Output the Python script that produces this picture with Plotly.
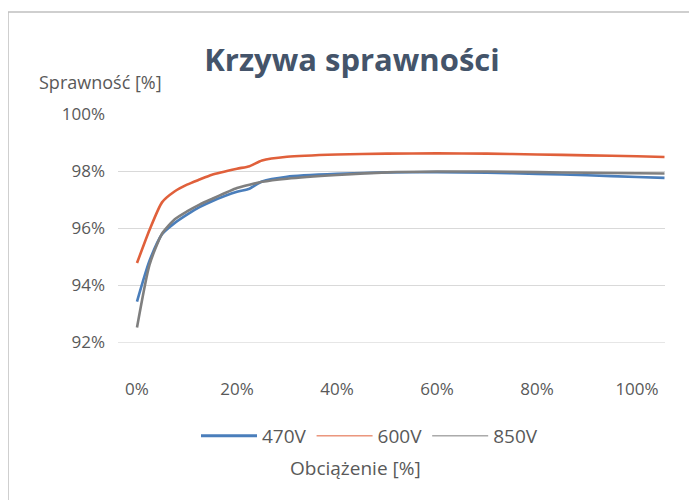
import plotly.graph_objects as go

# Load points [%]
load = [0, 2.5, 5, 7.5, 10, 12.5, 15, 20, 22.5, 25, 30, 40, 50, 60, 70, 80, 90, 100, 105.5]

# Efficiency [%]
eff_470 = [93.42, 94.85, 95.78, 96.17, 96.47, 96.73, 96.94, 97.27, 97.38, 97.63, 97.80,
           97.90, 97.95, 97.96, 97.94, 97.90, 97.85, 97.79, 97.76]
eff_600 = [94.77, 95.93, 96.90, 97.28, 97.52, 97.70, 97.87, 98.08, 98.17, 98.37, 98.50,
           98.58, 98.61, 98.62, 98.61, 98.58, 98.55, 98.52, 98.49]
eff_850 = [92.51, 94.71, 95.80, 96.30, 96.58, 96.82, 97.02, 97.40, 97.52, 97.62, 97.73,
           97.86, 97.95, 97.98, 97.98, 97.96, 97.94, 97.92, 97.91]

series_names = ["470V", "600V", "850V"]
colors = ["#4A7EBB", "#E0603B", "#7F7F7F"]
legend_widths = [3, 1, 1]

x_ticks = [0, 20, 40, 60, 80, 100]
x_tick_labels = ["0%", "20%", "40%", "60%", "80%", "100%"]
y_ticks = [92, 94, 96, 98, 100]
y_tick_labels = ["92%", "94%", "96%", "98%", "100%"]

title_text = "Krzywa sprawności"
y_title = "Sprawność [%]"
x_title = "Obciążenie [%]"

W, H = 697, 500
OFF = 8  # page body margin
L, R, T, B = 118 - OFF, W - (665 - OFF), 114 - OFF, H - (342 - OFF)
pw, ph = W - L - R, H - T - B

def px_x(p):
    return (p - OFF - L) / pw

def px_y(p):
    return (H - B - (p - OFF)) / ph

fig = go.Figure()
for name, ys, c in zip(series_names, [eff_470, eff_600, eff_850], colors):
    fig.add_trace(go.Scatter(x=load, y=ys, mode="lines", name=name,
                             line=dict(color=c, width=2.6, shape="spline", smoothing=0.6),
                             showlegend=False, hoverinfo="skip"))
for name, c, w in zip(series_names, colors, legend_widths):
    fig.add_trace(go.Scatter(x=[None], y=[None], mode="lines", name=name,
                             line=dict(color=c, width=w), showlegend=True))

font_family = "Open Sans, Noto Sans, sans-serif"
txt = "#595959"

fig.update_layout(
    width=W, height=H,
    margin=dict(l=L, r=R, t=T, b=B, pad=0),
    paper_bgcolor="white", plot_bgcolor="white",
    font=dict(family=font_family, size=17, color=txt),
    title=dict(text="<b>" + title_text + "</b>", x=(352 - OFF) / W, xanchor="center",
               y=1 - (60 - OFF) / H, yanchor="middle",
               font=dict(family=font_family, size=31, color="#44546A")),
    xaxis=dict(range=[-3.8, 105.6], tickvals=x_ticks, ticktext=x_tick_labels,
               showgrid=False, zeroline=False, showline=True, linecolor="#E6E6E6",
               linewidth=1, ticks="", ticklabelstandoff=32,
               tickfont=dict(size=17, color=txt)),
    yaxis=dict(range=[92, 100], tickvals=y_ticks, ticktext=y_tick_labels,
               showgrid=True, gridcolor="#D9D9D9", gridwidth=1, zeroline=False,
               showline=False, ticks="", ticklabelstandoff=12,
               tickfont=dict(size=17, color=txt)),
    legend=dict(orientation="h", x=px_x(196), xanchor="left", y=px_y(436), yanchor="middle",
                font=dict(size=19, color=txt), itemwidth=56, bgcolor="rgba(0,0,0,0)",
                tracegroupgap=0),
    annotations=[
        dict(text=y_title, x=px_x(37), y=px_y(82), xref="paper", yref="paper",
             xanchor="left", yanchor="middle", showarrow=False,
             font=dict(size=18, color=txt)),
        dict(text=x_title, x=px_x(355), y=px_y(468), xref="paper", yref="paper",
             xanchor="center", yanchor="middle", showarrow=False,
             font=dict(size=19, color=txt)),
    ],
    shapes=[
        dict(type="line", xref="paper", yref="paper", x0=px_x(6), x1=px_x(705),
             y0=px_y(12), y1=px_y(12), line=dict(color="#BFBFBF", width=1.5)),
        dict(type="line", xref="paper", yref="paper", x0=px_x(8), x1=px_x(8),
             y0=px_y(12), y1=px_y(505), line=dict(color="#BFBFBF", width=1.5)),
    ],
)

fig.write_html("out.html")
